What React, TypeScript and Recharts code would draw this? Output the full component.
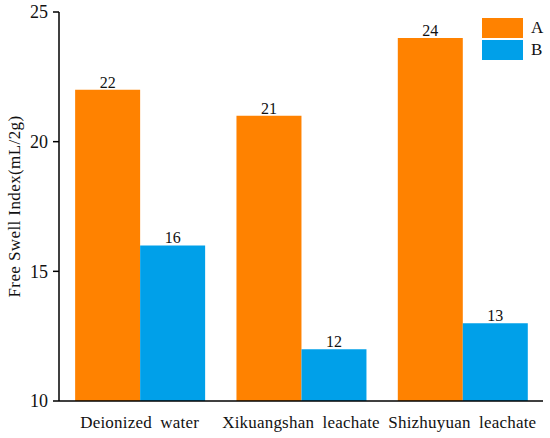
import React from "react";
import { BarChart, Bar, XAxis, YAxis, LabelList } from "recharts";

const categories = ["Deionized water", "Xikuangshan leachate", "Shizhuyuan leachate"];
const seriesA = [22, 21, 24];
const seriesB = [16, 12, 13];
const yTicks = [10, 15, 20, 25];
const seriesNames = ["A", "B"];

const data = categories.map((name, i) => ({ name, A: seriesA[i], B: seriesB[i] }));

const FONT = "Liberation Serif, Times New Roman, serif";
const ORANGE = "#FF8200";
const BLUE = "#00A0E9";
const COLORS = [ORANGE, BLUE];

const XTick = (props: any) => {
  const { x, y, payload } = props;
  return (
    <text
      x={x}
      y={y + 19}
      textAnchor="middle"
      fill="#111"
      fontFamily={FONT}
      style={{ fontFamily: FONT, fontSize: 17, letterSpacing: "0.2px", wordSpacing: "4px" }}
    >
      {payload.value}
    </text>
  );
};

export default function App() {
  return (
    <div style={{ position: "absolute", left: 0, top: 0, width: 550, height: 438, background: "#fff", fontFamily: FONT }}>
      <BarChart
        width={550}
        height={438}
        data={data}
        margin={{ top: 12, right: 7, bottom: 0, left: 0 }}
        barGap={0}
        barCategoryGap="10%"
        style={{ fontFamily: FONT }}
      >
        <XAxis
          dataKey="name"
          height={37}
          tick={<XTick />}
          tickLine={false}
          axisLine={{ stroke: "#000", strokeWidth: 1.5 }}
          interval={0}
        />
        <YAxis
          domain={[10, 25]}
          ticks={yTicks}
          width={59}
          tickSize={6}
          tickMargin={5}
          axisLine={{ stroke: "#000", strokeWidth: 1.5 }}
          tickLine={{ stroke: "#000", strokeWidth: 1.5 }}
          tick={{ fontSize: 18, fill: "#111", fontFamily: FONT }}
          allowDataOverflow
          label={{
            value: "Free Swell Index(mL/2g)",
            angle: -90,
            position: "insideLeft",
            dx: 9,
            style: { fontFamily: FONT, fontSize: 17, letterSpacing: "0.4px", fill: "#111", textAnchor: "middle" },
          }}
        />
        <Bar dataKey="A" fill={ORANGE} isAnimationActive={false}>
          <LabelList dataKey="A" position="top" offset={2} fontFamily={FONT} style={{ fontFamily: FONT, fontSize: 16, fill: "#111" }} />
        </Bar>
        <Bar dataKey="B" fill={BLUE} isAnimationActive={false}>
          <LabelList dataKey="B" position="top" offset={2} fontFamily={FONT} style={{ fontFamily: FONT, fontSize: 16, fill: "#111" }} />
        </Bar>
      </BarChart>
      <div style={{ position: "absolute", left: 482, top: 18, fontSize: 17, color: "#111" }}>
        {seriesNames.map((n, i) => (
          <div key={n} style={{ display: "flex", alignItems: "center", height: 20, marginBottom: 2 }}>
            <div style={{ width: 41, height: 20, background: COLORS[i] }} />
            <span style={{ marginLeft: 8, lineHeight: "20px" }}>{n}</span>
          </div>
        ))}
      </div>
    </div>
  );
}
